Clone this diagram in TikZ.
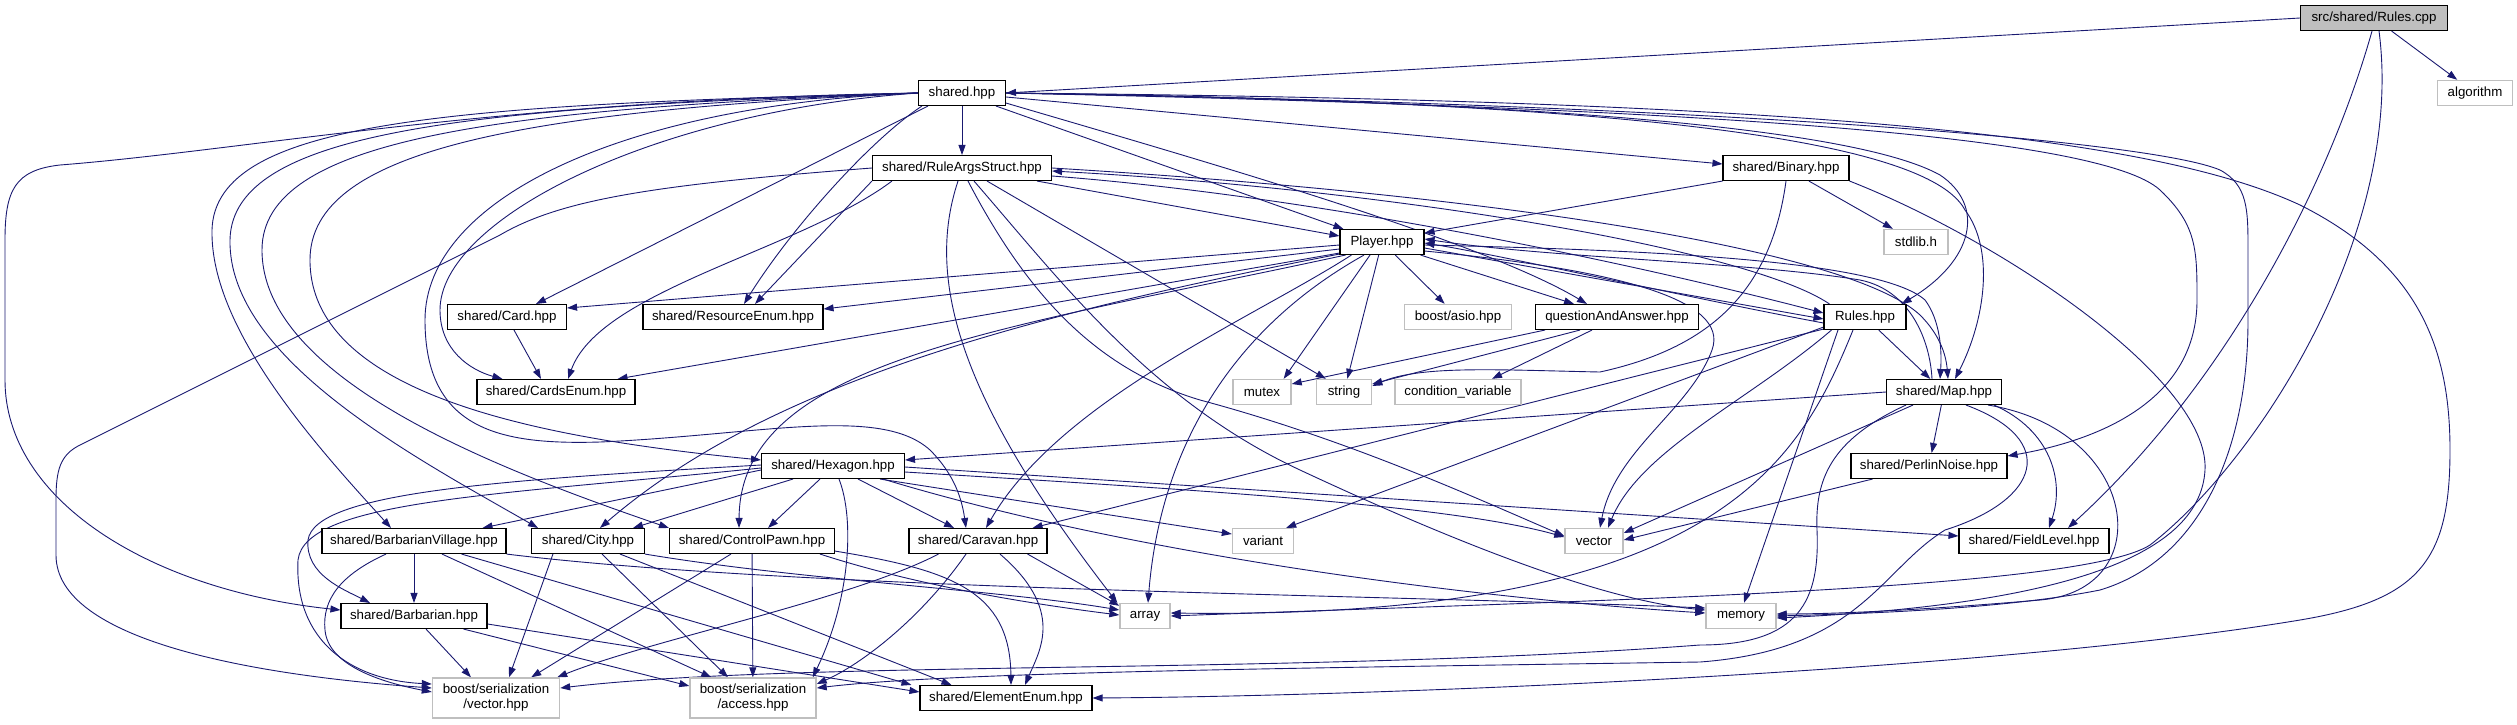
\documentclass[tikz,border=0pt]{standalone}
\usepackage{fontspec}
\setmainfont{Liberation Sans}
\usetikzlibrary{arrows.meta, calc, backgrounds}
\definecolor{incblue}{HTML}{191970}
\definecolor{sysgray}{HTML}{BFBFBF}
\tikzset{
  hdr/.style={draw=black, line width=1.1pt, fill=white, minimum height=25pt, inner sep=0pt,
    font=\fontsize{13.3}{15}\selectfont},
  syshdr/.style={hdr, draw=sysgray, line width=1.4pt},
  roothdr/.style={hdr, fill=sysgray},
  inc/.style={draw=incblue, line width=0.9pt, -{Triangle[length=10pt, width=7pt]}}
}

\begin{document}
\begin{tikzpicture}[x=1pt, y=-1pt]
    \useasboundingbox (0,0) rectangle (2517,724);

    % Ficheros
    \node[roothdr, minimum width=147pt] (rc) at (2374,18) {src/shared/Rules.cpp};
    \node[syshdr, minimum width=75pt] (algorithm) at (2475,93) {algorithm};
    \node[hdr, minimum width=87pt] (shared) at (962,93) {shared.hpp};
    \node[hdr, minimum width=179pt] (ruleargs) at (962,168) {shared/RuleArgsStruct.hpp};
    \node[hdr, minimum width=126pt] (binary) at (1786,168) {shared/Binary.hpp};
    \node[hdr, minimum width=84pt] (player) at (1382,242) {Player.hpp};
    \node[syshdr, minimum width=64pt] (stdlib) at (1916,242) {stdlib.h};
    \node[hdr, minimum width=119pt] (card) at (507,317) {shared/Card.hpp};
    \node[hdr, minimum width=180pt] (resenum) at (733,317) {shared/ResourceEnum.hpp};
    \node[syshdr, minimum width=107pt] (asio) at (1458,317) {boost/asio.hpp};
    \node[hdr, minimum width=163pt] (qaa) at (1617,317) {questionAndAnswer.hpp};
    \node[hdr, minimum width=82pt] (rulesh) at (1865,317) {Rules.hpp};
    \node[hdr, minimum width=158pt] (cardsenum) at (556,392) {shared/CardsEnum.hpp};
    \node[syshdr, minimum width=58pt] (mutex) at (1262,392) {mutex};
    \node[syshdr, minimum width=55pt] (string) at (1344,392) {string};
    \node[syshdr, minimum width=126pt] (condvar) at (1458,392) {condition\_variable};
    \node[hdr, minimum width=115pt] (map) at (1944,392) {shared/Map.hpp};
    \node[hdr, minimum width=143pt] (hexagon) at (833,466) {shared/Hexagon.hpp};
    \node[hdr, minimum width=156pt] (perlin) at (1929,466) {shared/PerlinNoise.hpp};
    \node[hdr, minimum width=184pt] (barbvillage) at (414,541) {shared/BarbarianVillage.hpp};
    \node[hdr, minimum width=113pt] (city) at (588,541) {shared/City.hpp};
    \node[hdr, minimum width=165pt] (controlpawn) at (752,541) {shared/ControlPawn.hpp};
    \node[hdr, minimum width=138pt] (caravan) at (978,541) {shared/Caravan.hpp};
    \node[syshdr, minimum width=61pt] (variant) at (1263,541) {variant};
    \node[syshdr, minimum width=58pt] (vector) at (1594,541) {vector};
    \node[hdr, minimum width=150pt] (fieldlevel) at (2034,541) {shared/FieldLevel.hpp};
    \node[hdr, minimum width=146pt] (barbarian) at (414,616) {shared/Barbarian.hpp};
    \node[syshdr, minimum width=50pt] (array) at (1145,616) {array};
    \node[syshdr, minimum width=70pt] (memory) at (1741,616) {memory};
    \node[syshdr, minimum width=127pt, minimum height=40pt, align=center] (bvector) at (496,698) {boost/serialization\\/vector.hpp};
    \node[syshdr, minimum width=126pt, minimum height=40pt, align=center] (baccess) at (753,698) {boost/serialization\\/access.hpp};
    \node[hdr, minimum width=172pt] (element) at (1006,698) {shared/ElementEnum.hpp};

    \begin{scope}[on background layer]
    % Rules.cpp
    \draw[inc] (rc.west) -- (shared.east);
    \draw[inc] (rc) -- (algorithm);
    \draw[inc] ($(rc.south)+(-2,0)$) .. controls (2330,180) and (2230,380) .. ($(fieldlevel.north)+(34,0)$);
    \draw[inc] ($(rc.south)+(5,0)$) .. controls (2405,230) and (2260,460) .. (2150,545)
        .. controls (2080,590) and (1600,600) .. (array.east);

    % shared.hpp
    \draw[inc] (shared) -- (ruleargs);
    \draw[inc] ($(shared.south east)+(-10,0)$) -- ($(player.north west)+(4,0)$);
    \draw[inc] ($(shared.south east)+(0,-3)$) .. controls (1200,160) and (1480,240) .. ($(qaa.north)+(-30,0)$);
    \draw[inc] ($(shared.east)+(0,4)$) -- ($(binary.west)+(0,-4)$);
    \draw[inc] (shared.east) .. controls (1500,100) and (1850,125) .. (1940,175)
        .. controls (1985,205) and (1975,260) .. ($(rulesh.north east)+(-5,0)$);
    \draw[inc] (shared.east) .. controls (1500,100) and (1920,125) .. (1965,210)
        .. controls (1995,250) and (1985,320) .. ($(map.north)+(11,0)$);
    \draw[inc] (shared.east) .. controls (1700,108) and (2100,135) .. (2160,190)
        .. controls (2197,225) and (2197,250) .. (2197,300)
        .. controls (2197,400) and (2100,440) .. ($(perlin.east)+(0,-10)$);
    \draw[inc] (shared.east) .. controls (1700,104) and (2150,140) .. (2220,170)
        .. controls (2248,185) and (2248,210) .. (2248,250) -- (2248,320)
        .. controls (2248,450) and (2200,560) .. (2100,590)
        .. controls (2000,610) and (1850,614) .. (memory.east);
    \draw[inc] (shared.east) .. controls (1800,100) and (2150,135) .. (2300,205)
        .. controls (2420,265) and (2450,350) .. (2450,450)
        .. controls (2450,560) and (2420,600) .. (2300,620)
        .. controls (2000,670) and (1400,696) .. (element.east);
    \draw[inc] ($(shared.south west)+(10,0)$) -- ($(card.north)+(29,0)$);
    \draw[inc] ($(shared.south west)+(4,0)$) .. controls (870,140) and (790,230) .. ($(resenum.north)+(11,0)$);
    \draw[inc] (shared.west) .. controls (650,112) and (440,220) .. (440,310)
        .. controls (440,350) and (470,370) .. ($(cardsenum.north west)+(26,0)$);
    \draw[inc] (shared.west) .. controls (620,105) and (425,200) .. (425,320)
        .. controls (425,430) and (500,445) .. (600,442)
        .. controls (760,435) and (880,405) .. (930,450)
        .. controls (955,475) and (962,500) .. ($(caravan.north)+(-12,0)$);
    \draw[inc] (shared.west) .. controls (450,105) and (215,120) .. (212,230)
        .. controls (210,330) and (320,450) .. ($(barbvillage.north)+(-23,0)$);
    \draw[inc] (shared.west) .. controls (470,107) and (232,130) .. (230,240)
        .. controls (228,360) and (420,460) .. ($(city.north)+(-50,0)$);
    \draw[inc] (shared.west) .. controls (490,109) and (262,140) .. (262,250)
        .. controls (262,380) and (500,470) .. (controlpawn.north west);
    \draw[inc] (shared.west) .. controls (520,111) and (310,150) .. (310,260)
        .. controls (310,400) and (560,440) .. ($(hexagon.west)+(0,-6)$);
    \draw[inc] (shared.west) .. controls (500,100) and (250,150) .. (60,165)
        .. controls (15,170) and (5,190) .. (5,240) -- (5,380)
        .. controls (5,500) and (150,590) .. ($(barbarian.west)+(0,-6)$);

    % RuleArgsStruct.hpp
    \draw[inc] ($(ruleargs.south east)+(-15,0)$) -- ($(player.west)+(0,-6)$);
    \draw[inc] (ruleargs.west) .. controls (650,185) and (560,200) .. (500,235) -- (80,445)
        .. controls (60,455) and (56,470) .. (56,500) -- (56,555)
        .. controls (56,640) and (250,675) .. ($(bvector.west)+(0,-10)$);
    \draw[inc] (ruleargs.south west) -- ($(resenum.north)+(22,0)$);
    \draw[inc] ($(ruleargs.south west)+(20,0)$) .. controls (800,250) and (600,290) .. ($(cardsenum.north)+(12,0)$);
    \draw[inc] ($(ruleargs.south)+(-4,0)$) .. controls (925,280) and (960,400) .. ($(array.north west)+(-2,0)$);
    \draw[inc] ($(ruleargs.south east)+(-65,0)$) -- ($(string.north west)+(10,0)$);
    \draw[inc] ($(ruleargs.south)+(6,0)$) .. controls (1030,300) and (1100,370) .. (1200,400)
        .. controls (1350,440) and (1480,500) .. ($(vector.west)+(0,-5)$);
    \draw[inc] ($(ruleargs.south)+(12,0)$) .. controls (1060,280) and (1150,400) .. (1300,470)
        .. controls (1450,540) and (1600,600) .. ($(memory.west)+(0,-6)$);
    \draw[inc] (ruleargs.east) .. controls (1500,195) and (1850,250) .. (1920,315)
        .. controls (1940,335) and (1946,355) .. ($(map.north)+(4,0)$);
    \draw[inc] ($(ruleargs.east)+(0,8)$) .. controls (1300,195) and (1600,255) .. ($(rulesh.west)+(0,-4)$);
    \draw[inc] ($(rulesh.north west)+(6,0)$) .. controls (1750,250) and (1400,190) .. ($(ruleargs.east)+(0,3)$);

    % Binary.hpp
    \draw[inc] (binary.south west) -- ($(player.north east)+(0,4)$);
    \draw[inc] (binary) -- (stdlib);
    \draw[inc] (binary.south) .. controls (1770,300) and (1700,350) .. (1600,372)
        .. controls (1500,370) and (1420,365) .. ($(string.east)+(0,-6)$);
    \draw[inc] (binary.south east) .. controls (2000,240) and (2210,380) .. (2205,470)
        .. controls (2200,560) and (2050,605) .. ($(memory.east)+(0,2)$);

    % Player.hpp
    \draw[inc] ($(player.west)+(0,3)$) -- ($(card.east)+(0,-9)$);
    \draw[inc] ($(player.west)+(0,7)$) -- ($(resenum.east)+(0,-8)$);
    \draw[inc] ($(player.south west)+(0,-2)$) -- ($(cardsenum.north east)+(-18,0)$);
    \draw[inc] ($(player.south)+(-12,0)$) -- ($(mutex.north east)+(-8,0)$);
    \draw[inc] (player) -- (string);
    \draw[inc] (player) -- (asio);
    \draw[inc] ($(player.south east)+(-4,0)$) -- ($(qaa.north)+(-43,0)$);
    \draw[inc] ($(player.east)+(0,6)$) -- ($(rulesh.west)+(0,2)$);
    \draw[inc] ($(rulesh.west)+(0,6)$) .. controls (1700,300) and (1500,255) .. ($(player.east)+(0,1)$);
    \draw[inc] ($(player.east)+(0,3)$) .. controls (1650,250) and (1880,260) .. (1925,300)
        .. controls (1940,320) and (1942,350) .. ($(map.north)+(-4,0)$);
    \draw[inc] ($(map.north)+(-12,0)$) .. controls (1930,340) and (1910,290) .. (1860,280)
        .. controls (1750,262) and (1550,258) .. ($(player.east)+(0,-3)$);
    \draw[inc] ($(player.south west)+(12,0)$) .. controls (1250,320) and (1060,400) .. ($(caravan.north)+(8,0)$);
    \draw[inc] ($(player.south)+(-18,0)$) .. controls (1230,330) and (1160,450) .. ($(array.north)+(3,0)$);
    \draw[inc] ($(player.south west)+(0,-1)$) .. controls (1000,320) and (760,390) .. ($(city.north)+(12,0)$);
    \draw[inc] ($(player.south west)+(6,0)$) .. controls (1000,330) and (740,360) .. ($(controlpawn.north)+(-13,0)$);
    \draw[inc] ($(player.east)+(0,9)$) .. controls (1620,270) and (1730,300) .. (1712,350)
        .. controls (1690,410) and (1615,450) .. ($(vector.north)+(6,0)$);

    % questionAndAnswer.hpp
    \draw[inc] ($(qaa.south west)+(10,0)$) -- ($(mutex.east)+(0,-8)$);
    \draw[inc] ($(qaa.south west)+(45,0)$) -- ($(string.east)+(0,-8)$);
    \draw[inc] ($(qaa.south)+(-25,0)$) -- ($(condvar.north)+(34,0)$);

    % Rules.hpp
    \draw[inc] (rulesh) -- (map);
    \draw[inc] ($(rulesh.south)+(-27,0)$) -- ($(memory.north)+(3,0)$);
    \draw[inc] ($(rulesh.south west)+(8,0)$) .. controls (1750,400) and (1640,450) .. ($(vector.north)+(14,0)$);
    \draw[inc] ($(rulesh.south west)+(0,-3)$) -- ($(variant.north east)+(-8,0)$);
    \draw[inc] ($(rulesh.south west)+(0,-1)$) -- ($(caravan.north east)+(-15,0)$);
    \draw[inc] ($(rulesh.south)+(-12,0)$) .. controls (1800,460) and (1720,620) .. ($(array.east)+(0,-3)$);

    % Map.hpp
    \draw[inc] (map.west) -- ($(hexagon.east)+(0,-6)$);
    \draw[inc] (map) -- (perlin);
    \draw[inc] ($(map.south east)+(-8,0)$) .. controls (2050,430) and (2065,480) .. ($(fieldlevel.north)+(15,0)$);
    \draw[inc] ($(map.south west)+(27,0)$) -- ($(vector.east)+(0,-8)$);
    \draw[inc] ($(map.south east)+(-14,0)$) .. controls (2140,430) and (2160,590) .. (2040,600)
        .. controls (1900,612) and (1820,614) .. ($(memory.east)+(0,-2)$);
    \draw[inc] ($(map.south west)+(20,0)$) .. controls (1830,440) and (1815,480) .. (1817,530)
        .. controls (1820,600) and (1800,645) .. (1700,645)
        .. controls (1300,675) and (800,660) .. ($(bvector.east)+(0,-10)$);
    \draw[inc] ($(map.south)+(22,0)$) .. controls (2060,440) and (2040,500) .. (1945,530)
        .. controls (1880,570) and (1860,650) .. (1700,662)
        .. controls (1300,668) and (950,672) .. ($(baccess.east)+(0,-10)$);

    % PerlinNoise.hpp
    \draw[inc] ($(perlin.south west)+(22,0)$) -- ($(vector.east)+(0,-1)$);

    % Hexagon.hpp
    \draw[inc] ($(hexagon.west)+(0,4)$) -- ($(barbvillage.north east)+(-24,0)$);
    \draw[inc] ($(hexagon.south west)+(32,0)$) -- ($(city.north east)+(-12,0)$);
    \draw[inc] ($(hexagon.south)+(-13,0)$) -- ($(controlpawn.north)+(16,0)$);
    \draw[inc] ($(hexagon.south east)+(-47,0)$) -- ($(caravan.north)+(-24,0)$);
    \draw[inc] ($(hexagon.south east)+(-25,0)$) -- ($(variant.west)+(0,-7)$);
    \draw[inc] ($(hexagon.east)+(0,6)$) .. controls (1200,490) and (1450,505) .. ($(vector.west)+(0,-4)$);
    \draw[inc] ($(hexagon.east)+(0,1)$) -- ($(fieldlevel.west)+(0,-5)$);
    \draw[inc] ($(hexagon.south east)+(-22,0)$) .. controls (1150,560) and (1500,600) .. ($(memory.west)+(0,-3)$);
    \draw[inc] ($(hexagon.west)+(0,-1)$) .. controls (500,480) and (315,492) .. (308,540)
        .. controls (305,575) and (345,590) .. ($(barbarian.north)+(-44,0)$);
    \draw[inc] ($(hexagon.west)+(0,2)$) .. controls (500,495) and (305,500) .. (298,560)
        .. controls (294,640) and (350,680) .. ($(bvector.west)+(0,-14)$);
    \draw[inc] ($(hexagon.south)+(6,0)$) .. controls (855,520) and (850,600) .. ($(baccess.north east)+(-4,0)$);

    % BarbarianVillage.hpp
    \draw[inc] (barbvillage) -- (barbarian);
    \draw[inc] ($(barbvillage.south)+(-28,0)$) .. controls (340,575) and (322,600) .. (325,630)
        .. controls (328,665) and (380,682) .. ($(bvector.west)+(0,-6)$);
    \draw[inc] ($(barbvillage.south)+(28,0)$) -- ($(baccess.north west)+(22,0)$);
    \draw[inc] ($(barbvillage.south east)+(-45,0)$) -- ($(element.north west)+(-8,0)$);
    \draw[inc] (barbvillage.south east) .. controls (800,590) and (1400,595) .. ($(memory.west)+(0,-8)$);

    % City.hpp
    \draw[inc] ($(city.south west)+(22,0)$) -- ($(bvector.north)+(13,0)$);
    \draw[inc] ($(city.south)+(14,0)$) -- ($(baccess.north)+(-25,0)$);
    \draw[inc] ($(city.south east)+(-25,0)$) -- ($(element.north west)+(32,0)$);
    \draw[inc] (city.south east) .. controls (800,580) and (1000,590) .. ($(array.west)+(0,-6)$);

    % ControlPawn.hpp
    \draw[inc] ($(controlpawn.south west)+(62,0)$) -- ($(bvector.north east)+(-29,0)$);
    \draw[inc] (controlpawn) -- (baccess);
    \draw[inc] ($(controlpawn.south east)+(0,-3)$) .. controls (950,570) and (1010,590) .. ($(element.north)+(5,0)$);
    \draw[inc] ($(controlpawn.south east)+(-15,0)$) .. controls (900,580) and (1000,600) .. ($(array.west)+(0,-1)$);

    % Barbarian.hpp
    \draw[inc] ($(barbarian.south)+(12,0)$) -- ($(bvector.north)+(-25,0)$);
    \draw[inc] ($(barbarian.south east)+(-24,0)$) -- ($(baccess.west)+(0,-12)$);
    \draw[inc] ($(barbarian.east)+(0,8)$) -- ($(element.west)+(0,-6)$);

    % Caravan.hpp
    \draw[inc] ($(caravan.south west)+(30,0)$) .. controls (850,600) and (650,640) .. ($(bvector.north east)+(-3,0)$);
    \draw[inc] ($(caravan.south)+(-12,0)$) .. controls (920,620) and (860,665) .. ($(baccess.east)+(0,-14)$);
    \draw[inc] ($(caravan.south)+(22,0)$) .. controls (1065,610) and (1040,650) .. ($(element.north)+(19,0)$);
    \draw[inc] ($(caravan.south east)+(-20,0)$) -- ($(array.north west)+(0,3)$);

    % Card.hpp
    \draw[inc] ($(card.south)+(7,0)$) -- ($(cardsenum.north)+(-15,0)$);
    \end{scope}

\end{tikzpicture}
\end{document}
